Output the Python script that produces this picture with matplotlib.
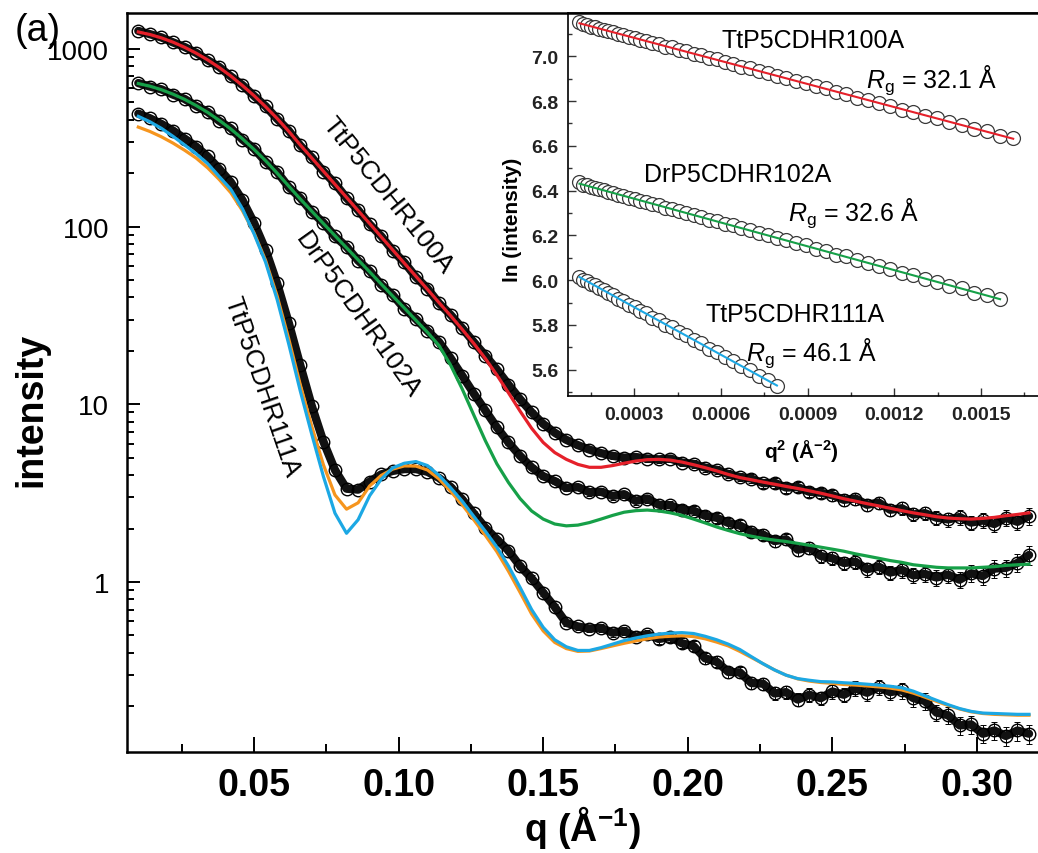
"""SAXS curves for three P5CDHR variants with Guinier-plot inset.

Main panel: log intensity vs q with fitted model curves.
Inset: ln(I) vs q^2 at low q, with Guinier lines from the quoted Rg values.
"""

import matplotlib

matplotlib.use("Agg")

import matplotlib.pyplot as plt
import numpy as np
from matplotlib.ticker import (FixedFormatter, FixedLocator, FormatStrFormatter,
                               LogLocator, MultipleLocator, NullFormatter)

plt.rcParams["font.family"] = ["Liberation Sans", "DejaVu Sans"]
plt.rcParams["mathtext.fontset"] = "custom"
plt.rcParams["mathtext.rm"] = "Liberation Sans"
plt.rcParams["mathtext.it"] = "Liberation Sans:italic"
plt.rcParams["mathtext.bf"] = "Liberation Sans:bold"

# ---- main panel data (q in 1/Angstrom) ----
Q = [
    0.010, 0.014, 0.018, 0.022, 0.026, 0.030, 0.034, 0.038, 0.042, 0.046,
    0.050, 0.054, 0.058, 0.062, 0.066, 0.070, 0.074, 0.078, 0.082, 0.086,
    0.090, 0.094, 0.098, 0.102, 0.106, 0.110, 0.114, 0.118, 0.122, 0.126,
    0.130, 0.134, 0.138, 0.142, 0.146, 0.150, 0.154, 0.158, 0.162, 0.166,
    0.170, 0.174, 0.178, 0.182, 0.186, 0.190, 0.194, 0.198, 0.202, 0.206,
    0.210, 0.214, 0.218, 0.222, 0.226, 0.230, 0.234, 0.238, 0.242, 0.246,
    0.250, 0.254, 0.258, 0.262, 0.266, 0.270, 0.274, 0.278, 0.282, 0.286,
    0.290, 0.294, 0.298, 0.302, 0.306, 0.310, 0.314, 0.318,
]

I_100A = [
    1262, 1210, 1160, 1088, 1025, 950, 864, 790, 700, 626,
    544, 476, 404, 347, 286, 245, 204, 175, 145, 124,
    103, 88.3, 73.2, 62.8, 52.0, 44.8, 37.0, 31.9, 26.8, 22.4,
    18.8, 15.7, 12.9, 10.7, 9.02, 7.76, 6.92, 6.31, 5.89, 5.56,
    5.31, 5.13, 5.01, 5.05, 4.95, 4.90, 4.95, 4.70, 4.62, 4.40,
    4.28, 4.05, 3.90, 3.82, 3.60, 3.62, 3.40, 3.42, 3.22, 3.18,
    3.08, 2.90, 2.95, 2.72, 2.80, 2.55, 2.60, 2.40, 2.44, 2.30,
    2.25, 2.32, 2.16, 2.22, 2.12, 2.30, 2.18, 2.35,
]
FIT_100A = [
    1245, 1205, 1153, 1091, 1021, 946, 867, 785, 703, 622,
    546, 473, 406, 344, 288, 243, 205, 173, 146, 123,
    104, 87.5, 73.8, 62.2, 52.5, 44.3, 37.3, 31.5, 26.4, 22.0,
    18.1, 14.6, 11.6, 9.16, 7.33, 6.10, 5.35, 4.90, 4.59, 4.42,
    4.42, 4.52, 4.66, 4.79, 4.88, 4.90, 4.85, 4.73, 4.57, 4.40,
    4.22, 4.03, 3.87, 3.76, 3.65, 3.55, 3.45, 3.36, 3.26, 3.16,
    3.05, 2.94, 2.85, 2.76, 2.68, 2.60, 2.52, 2.45, 2.39, 2.33,
    2.29, 2.27, 2.26, 2.28, 2.31, 2.36, 2.40, 2.45,
]
ERR_100A = [
    0.003, 0.003, 0.003, 0.003, 0.003, 0.003, 0.004, 0.004, 0.004, 0.004,
    0.004, 0.005, 0.005, 0.005, 0.006, 0.006, 0.006, 0.007, 0.007, 0.008,
    0.008, 0.009, 0.010, 0.010, 0.011, 0.012, 0.013, 0.014, 0.015, 0.016,
    0.018, 0.019, 0.021, 0.022, 0.024, 0.026, 0.027, 0.029, 0.031, 0.032,
    0.034, 0.036, 0.038, 0.040, 0.041, 0.043, 0.045, 0.047, 0.048, 0.050,
    0.052, 0.054, 0.056, 0.058, 0.060, 0.062, 0.063, 0.065, 0.067, 0.069,
    0.071, 0.073, 0.075, 0.077, 0.079, 0.081, 0.083, 0.085, 0.087, 0.089,
    0.091, 0.093, 0.095, 0.097, 0.099, 0.101, 0.103, 0.105,
]

I_102A = [
    642, 614, 592, 553, 523, 477, 442, 393, 357, 309,
    275, 232, 203, 167, 145, 121, 105, 88.0, 77.1, 64.4,
    56.3, 47.0, 41.2, 34.5, 30.2, 25.9, 22.4, 18.2, 14.5, 11.5,
    9.23, 7.41, 6.10, 5.13, 4.42, 3.94, 3.70, 3.38, 3.42, 3.20,
    3.22, 3.05, 3.12, 2.86, 2.95, 2.72, 2.70, 2.55, 2.52, 2.36,
    2.30, 2.15, 2.08, 1.92, 1.85, 1.70, 1.74, 1.52, 1.56, 1.40,
    1.36, 1.28, 1.30, 1.18, 1.22, 1.13, 1.17, 1.09, 1.11, 1.06,
    1.10, 1.03, 1.12, 1.08, 1.19, 1.20, 1.28, 1.42,
]
FIT_102A = [
    638, 617, 589, 556, 520, 480, 439, 396, 354, 312,
    272, 235, 200, 169, 143, 122, 104, 88.9, 76.0, 65.0,
    55.6, 47.5, 40.6, 34.8, 29.7, 25.4, 21.4, 16.6, 12.2, 8.71,
    6.24, 4.62, 3.63, 2.95, 2.51, 2.26, 2.12, 2.07, 2.09, 2.16,
    2.26, 2.37, 2.47, 2.52, 2.54, 2.51, 2.45, 2.37, 2.26, 2.15,
    2.04, 1.95, 1.87, 1.81, 1.76, 1.72, 1.69, 1.65, 1.61, 1.57,
    1.53, 1.49, 1.44, 1.40, 1.36, 1.32, 1.29, 1.25, 1.23, 1.21,
    1.20, 1.20, 1.20, 1.21, 1.22, 1.24, 1.25, 1.26,
]
ERR_102A = [
    0.004, 0.004, 0.004, 0.004, 0.004, 0.005, 0.005, 0.005, 0.005, 0.006,
    0.006, 0.006, 0.007, 0.007, 0.008, 0.008, 0.009, 0.010, 0.010, 0.011,
    0.012, 0.013, 0.014, 0.015, 0.016, 0.017, 0.018, 0.020, 0.021, 0.023,
    0.024, 0.026, 0.028, 0.030, 0.032, 0.034, 0.036, 0.038, 0.040, 0.042,
    0.044, 0.046, 0.048, 0.050, 0.052, 0.054, 0.056, 0.058, 0.060, 0.062,
    0.064, 0.066, 0.068, 0.070, 0.072, 0.074, 0.076, 0.078, 0.080, 0.082,
    0.084, 0.086, 0.088, 0.090, 0.092, 0.094, 0.096, 0.098, 0.100, 0.102,
    0.104, 0.106, 0.108, 0.110, 0.112, 0.114, 0.116, 0.118,
]

I_111A = [
    432, 407, 378, 347, 313, 282, 248, 211, 178, 141,
    105, 74.1, 47.9, 28.8, 16.6, 9.77, 6.17, 4.27, 3.35, 3.31,
    3.67, 4.03, 4.22, 4.32, 4.32, 4.17, 3.85, 3.43, 2.92, 2.43,
    2.02, 1.74, 1.50, 1.23, 1.05, 0.871, 0.724, 0.589, 0.562, 0.547,
    0.552, 0.518, 0.530, 0.492, 0.508, 0.478, 0.490, 0.452, 0.436, 0.372,
    0.356, 0.312, 0.310, 0.270, 0.268, 0.236, 0.240, 0.218, 0.232, 0.222,
    0.242, 0.232, 0.252, 0.238, 0.256, 0.240, 0.246, 0.222, 0.214, 0.184,
    0.178, 0.156, 0.158, 0.140, 0.146, 0.136, 0.146, 0.140,
]
FIT_111A_BLUE = [
    417, 389, 357, 322, 288, 257, 226, 191, 162, 126,
    91.2, 63.1, 38.9, 21.9, 11.9, 6.76, 3.93, 2.44, 1.88, 2.24,
    3.06, 3.79, 4.39, 4.66, 4.76, 4.52, 3.98, 3.39, 2.85, 2.34,
    1.93, 1.57, 1.23, 0.933, 0.700, 0.556, 0.473, 0.432, 0.412, 0.412,
    0.427, 0.447, 0.468, 0.484, 0.498, 0.509, 0.516, 0.519, 0.513, 0.495,
    0.473, 0.447, 0.417, 0.380, 0.347, 0.320, 0.299, 0.286, 0.280, 0.275,
    0.274, 0.271, 0.269, 0.266, 0.263, 0.259, 0.254, 0.243, 0.229, 0.216,
    0.204, 0.194, 0.187, 0.183, 0.182, 0.181, 0.180, 0.180,
]
FIT_111A_ORANGE = [
    363, 343, 320, 295, 269, 243, 214, 184, 155, 123,
    92.3, 64.6, 40.7, 23.4, 12.9, 7.50, 4.57, 3.09, 2.57, 2.79,
    3.47, 3.98, 4.32, 4.50, 4.49, 4.27, 3.80, 3.24, 2.72, 2.24,
    1.83, 1.48, 1.15, 0.875, 0.661, 0.531, 0.457, 0.422, 0.407, 0.409,
    0.422, 0.437, 0.452, 0.466, 0.479, 0.490, 0.495, 0.498, 0.493, 0.479,
    0.459, 0.437, 0.407, 0.376, 0.347, 0.320, 0.299, 0.285, 0.277, 0.272,
    0.269, 0.265, 0.263, 0.260, 0.257, 0.253, 0.247, 0.237, 0.225, 0.213,
    0.202, 0.193, 0.186, 0.182, 0.180, 0.179, 0.178, 0.178,
]
ERR_111A = [
    0.004, 0.004, 0.004, 0.005, 0.005, 0.005, 0.005, 0.006, 0.006, 0.007,
    0.008, 0.009, 0.010, 0.012, 0.014, 0.016, 0.018, 0.020, 0.021, 0.021,
    0.020, 0.020, 0.020, 0.020, 0.021, 0.022, 0.023, 0.024, 0.026, 0.028,
    0.030, 0.032, 0.034, 0.036, 0.038, 0.040, 0.042, 0.044, 0.046, 0.048,
    0.050, 0.052, 0.054, 0.056, 0.058, 0.060, 0.062, 0.064, 0.066, 0.068,
    0.070, 0.072, 0.074, 0.076, 0.078, 0.080, 0.082, 0.084, 0.086, 0.088,
    0.090, 0.092, 0.094, 0.096, 0.098, 0.100, 0.102, 0.104, 0.106, 0.108,
    0.110, 0.112, 0.114, 0.116, 0.118, 0.120, 0.122, 0.124,
]

# ---- Guinier inset data ----
Q_GUINIER = [
    0.01050, 0.01107, 0.01164, 0.01221, 0.01278, 0.01335, 0.01392, 0.01449,
    0.01506, 0.01563, 0.01620, 0.01677, 0.01734, 0.01791, 0.01848, 0.01905,
    0.01962, 0.02019, 0.02076, 0.02133, 0.02190, 0.02247, 0.02304, 0.02361,
    0.02418, 0.02475, 0.02532, 0.02589, 0.02646, 0.02703, 0.02760, 0.02817,
    0.02874, 0.02931, 0.02988, 0.03045, 0.03102, 0.03159, 0.03216, 0.03273,
    0.03330, 0.03387, 0.03444, 0.03501, 0.03558, 0.03615, 0.03672, 0.03729,
    0.03786, 0.03843, 0.03900, 0.03957, 0.04014,
]
LN_100A = [
    7.152, 7.142, 7.140, 7.131, 7.130, 7.122, 7.119, 7.111, 7.108, 7.099,
    7.096, 7.086, 7.083, 7.073, 7.070, 7.058, 7.055, 7.043, 7.039, 7.027,
    7.022, 7.010, 7.005, 6.992, 6.986, 6.973, 6.967, 6.953, 6.947, 6.932,
    6.925, 6.910, 6.903, 6.888, 6.880, 6.865, 6.856, 6.840, 6.832, 6.815,
    6.806, 6.789, 6.780, 6.762, 6.752, 6.734, 6.724, 6.705, 6.695, 6.676,
    6.665, 6.645, 6.634,
]
LN_102A = [
    6.438, 6.426, 6.423, 6.415, 6.413, 6.405, 6.402, 6.394, 6.391, 6.381,
    6.378, 6.368, 6.364, 6.354, 6.350, 6.339, 6.335, 6.324, 6.319, 6.307,
    6.302, 6.289, 6.284, 6.271, 6.265, 6.251, 6.245, 6.231, 6.224, 6.209,
    6.202, 6.187, 6.179, 6.164, 6.156, 6.139, 6.131, 6.114, 6.106, 6.088,
    6.079, 6.062, 6.052, 6.034, 6.023, 6.005, 5.994, 5.975, 5.964, 5.945,
    5.933, 5.918,
]
LN_111A = [
    6.016, 6.003, 5.998, 5.984, 5.978, 5.964, 5.957, 5.941, 5.933, 5.917,
    5.908, 5.891, 5.881, 5.863, 5.852, 5.833, 5.821, 5.801, 5.789, 5.768,
    5.754, 5.732, 5.718, 5.695, 5.680, 5.656, 5.640, 5.615, 5.598, 5.572,
    5.554, 5.528,
]

SAMPLES = ["TtP5CDHR100A", "DrP5CDHR102A", "TtP5CDHR111A"]
RG = [32.1, 32.6, 46.1]          # Angstrom
LN_I0 = [7.185, 6.470, 6.092]    # Guinier intercepts

RED = "#E5202A"
GREEN = "#16A048"
BLUE = "#1CA8E4"
ORANGE = "#F6951E"
FIT_COLORS = [RED, GREEN, BLUE]

W_PX, H_PX = 1038, 854


def style_main(ax):
    ax.set_yscale("log")
    ax.set_xlim(0.00609, 0.3218)
    ax.set_ylim(0.1105, 1592)

    ax.xaxis.set_major_locator(FixedLocator([0.05, 0.10, 0.15, 0.20, 0.25, 0.30]))
    ax.xaxis.set_major_formatter(FixedFormatter(["0.05", "0.10", "0.15", "0.20", "0.25", "0.30"]))
    ax.xaxis.set_minor_locator(FixedLocator([0.025, 0.075, 0.125, 0.175, 0.225, 0.275]))
    ax.yaxis.set_major_locator(FixedLocator([1, 10, 100, 1000]))
    ax.yaxis.set_major_formatter(FixedFormatter(["1", "10", "100", "1000"]))
    ax.yaxis.set_minor_locator(LogLocator(base=10, subs=range(2, 10)))
    ax.yaxis.set_minor_formatter(NullFormatter())

    ax.tick_params(which="both", direction="in", top=False, right=False,
                   width=1.4, color="black")
    ax.tick_params(axis="y", which="major", length=9.5, pad=13, labelsize=20)
    ax.tick_params(axis="y", which="minor", length=5)
    ax.tick_params(axis="x", which="major", length=11, pad=11, labelsize=27)
    ax.tick_params(axis="x", which="minor", length=6)
    for lbl in ax.get_xticklabels():
        lbl.set_fontweight("bold")
    for side in ("left", "bottom", "top", "right"):
        ax.spines[side].set_linewidth(1.8)


def draw_saxs(ax, intensity, rel_err):
    intensity = np.asarray(intensity)
    yerr = intensity * np.asarray(rel_err)
    ax.errorbar(Q, intensity, yerr=yerr, fmt="none", ecolor="black",
                elinewidth=0.7, capsize=2.2, capthick=0.7, zorder=2)
    ax.plot(Q, intensity, color="#111111", lw=6.0, solid_capstyle="round",
            solid_joinstyle="round", zorder=2)
    ax.plot(Q, intensity, "o", mfc="none", mec="black", ms=9, mew=1.0, zorder=3)


def draw_inset(fig):
    ax = fig.add_axes([568 / W_PX, 1 - 397 / H_PX, (1040 - 568) / W_PX, (397 - 14) / H_PX])
    ax.set_facecolor("white")
    ax.set_zorder(5)

    q2 = np.asarray(Q_GUINIER) ** 2
    series = [LN_100A, LN_102A, LN_111A]
    for ln_vals, rg, ln0, color in zip(series, RG, LN_I0, FIT_COLORS):
        x = q2[: len(ln_vals)]
        ax.plot(x, ln_vals, "o", mfc="white", mec="#3a3a3a", ms=10, mew=0.9, zorder=2)
        line_x = np.array([x[0], x[-1]])
        ax.plot(line_x, ln0 - rg ** 2 * line_x / 3, color=color, lw=1.5, zorder=3)

    ax.set_xlim(0.0000705, 0.001704)
    ax.set_ylim(5.483, 7.193)
    ax.xaxis.set_major_locator(MultipleLocator(0.0003))
    ax.xaxis.set_minor_locator(MultipleLocator(0.00015))
    ax.xaxis.set_major_formatter(FormatStrFormatter("%.4f"))
    ax.yaxis.set_major_locator(MultipleLocator(0.2))
    ax.yaxis.set_minor_locator(MultipleLocator(0.1))
    ax.yaxis.set_major_formatter(FormatStrFormatter("%.1f"))
    ax.tick_params(which="both", direction="in", top=False, right=False,
                   width=1.0, labelsize=14, color="#333333")
    ax.tick_params(which="major", length=6, pad=7)
    ax.tick_params(which="minor", length=3)
    for lbl in ax.get_xticklabels() + ax.get_yticklabels():
        lbl.set_fontweight("bold")
        lbl.set_color("#222222")
    ax.spines["left"].set_linewidth(1.2)
    ax.spines["bottom"].set_linewidth(1.2)
    ax.spines["top"].set_linewidth(1.8)
    ax.spines["right"].set_visible(False)

    # sample names and Rg values
    name_pos = [(0.000918, 7.073), (0.000659, 6.475), (0.000856, 5.850)]
    rg_pos = [(0.001330, 6.899), (0.001060, 6.305), (0.000915, 5.680)]
    for name, rg, (nx, ny), (rx, ry) in zip(SAMPLES, RG, name_pos, rg_pos):
        ax.text(nx, ny, name, fontsize=18, ha="center", va="center", zorder=4)
        ax.text(rx, ry, rf"$R_{{\rm g}}$ = {rg:.1f} Å", fontsize=18,
                ha="center", va="center", zorder=4)

    fig.text(512 / W_PX, 1 - 220 / H_PX, "ln (intensity)", rotation=90,
             fontsize=15, fontweight="bold", ha="center", va="center", zorder=6)
    fig.text(801 / W_PX, 1 - 451 / H_PX, r"q$^{\mathbf{2}}$ (Å$^{\mathbf{-2}}$)",
             fontsize=15, fontweight="bold", ha="center", va="center", zorder=6)


def main():
    fig = plt.figure(figsize=(W_PX / 100, H_PX / 100), dpi=100)
    ax = fig.add_axes([127 / W_PX, 1 - 753 / H_PX, (1040 - 127) / W_PX, (753 - 14) / H_PX])

    draw_saxs(ax, I_100A, ERR_100A)
    draw_saxs(ax, I_102A, ERR_102A)
    draw_saxs(ax, I_111A, ERR_111A)

    ax.plot(Q, FIT_100A, color=RED, lw=2.3, zorder=4)
    ax.plot(Q, FIT_102A, color=GREEN, lw=2.3, zorder=4)
    ax.plot(Q, FIT_111A_ORANGE, color=ORANGE, lw=2.3, zorder=4)
    ax.plot(Q, FIT_111A_BLUE, color=BLUE, lw=2.3, zorder=5)

    style_main(ax)

    # curve labels running along the slopes
    ax.text(0.0963, 152, SAMPLES[0], rotation=-51, fontsize=19,
            ha="center", va="center", rotation_mode="anchor")
    ax.text(0.0859, 32.2, SAMPLES[1], rotation=-54.5, fontsize=19,
            ha="center", va="center", rotation_mode="anchor")
    ax.text(0.0528, 12.7, SAMPLES[2], rotation=-71, fontsize=19,
            ha="center", va="center", rotation_mode="anchor")

    fig.text(31 / W_PX, 1 - 410 / H_PX, "intensity", rotation=90, fontsize=27,
             fontweight="bold", ha="center", va="center")
    fig.text(582 / W_PX, 1 - 828 / H_PX, r"q (Å$^{\mathbf{-1}}$)", fontsize=27,
             fontweight="bold", ha="center", va="center")
    fig.text(15 / W_PX, 1 - 13 / H_PX, "(a)", fontsize=27, ha="left", va="top")

    draw_inset(fig)

    fig.savefig("out.png", dpi=100, facecolor="white")
    plt.close(fig)


if __name__ == "__main__":
    main()
